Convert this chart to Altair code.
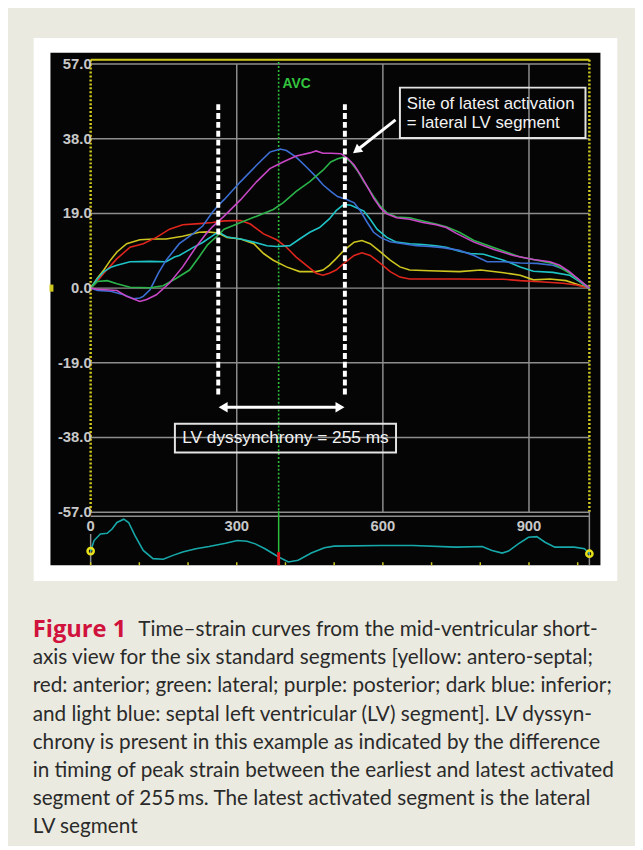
import altair as alt
import pandas as pd

# ---------------- data ----------------
SEGMENTS = ["yellow: antero-septal", "red: anterior", "light blue: septal",
            "dark blue: inferior", "green: lateral", "purple: posterior"]
SEG_COLORS = ["#cdc520", "#e0261c", "#1fc3c6", "#3b6fd4", "#2bb34a", "#c947c6"]

yellow_t = [0, 14, 27, 40, 54, 74, 101, 130, 155, 189, 223, 240, 262, 280, 308, 335, 355, 375, 402, 429,
            463, 477, 490, 504, 520, 541, 557, 574, 595, 615, 635, 655, 696, 757, 801, 848, 882, 909, 943,
            976, 1003, 1024]
yellow_v = [0, 2.6, 4.6, 7.0, 9.2, 11.3, 12.3, 12.5, 12.5, 13.2, 14.2, 14.3, 14.0, 12.9, 12.5, 11.3, 8.8,
            7.1, 5.4, 4.2, 4.2, 4.6, 5.8, 7.5, 9.6, 11.7, 12.1, 11.3, 9.2, 7.1, 5.4, 4.6, 4.4, 4.2, 4.6,
            3.9, 3.3, 2.1, 2.3, 1.9, 0.8, 0]

red_t = [0, 14, 27, 54, 81, 108, 135, 162, 189, 223, 250, 274, 308, 328, 355, 382, 402, 422, 443, 463,
         477, 490, 504, 520, 541, 557, 574, 595, 615, 635, 655, 757, 801, 848, 882, 922, 970, 997, 1024]
red_v = [0, 1.8, 3.8, 7.5, 10.4, 11.3, 12.9, 15.0, 16.1, 16.4, 16.7, 17.1, 17.2, 16.3, 13.8, 12.3, 10.4,
         7.9, 5.8, 3.8, 3.3, 3.8, 4.6, 6.3, 8.3, 9.0, 8.3, 6.3, 4.2, 2.8, 2.3, 2.3, 2.25, 2.25, 1.9, 1.6,
         1.25, 0.8, 0]

cyan_t = [0, 14, 27, 43, 54, 81, 122, 155, 172, 182, 210, 230, 250, 262, 280, 308, 335, 362, 382, 409,
          429, 450, 470, 490, 504, 520, 534, 547, 561, 574, 588, 608, 628, 655, 682, 709, 730, 757, 780,
          807, 848, 882, 909, 949, 983, 1003, 1024]
cyan_v = [0, 2.4, 4.2, 5.4, 5.8, 6.7, 6.8, 6.7, 7.9, 8.3, 10.3, 11.6, 13.3, 14.3, 13.0, 12.5, 11.7, 10.8,
          10.6, 10.8, 12.5, 14.2, 15.4, 17.6, 19.7, 21.3, 21.1, 20.4, 19.6, 17.5, 15.0, 12.9, 11.7, 11.3,
          11.1, 10.8, 10.4, 9.4, 8.8, 8.6, 7.1, 5.4, 4.3, 4.0, 3.3, 1.7, -0.2]

blue_t = [0, 14, 41, 68, 88, 101, 108, 122, 139, 155, 182, 210, 230, 250, 262, 274, 308, 341, 368, 389,
          402, 422, 443, 463, 477, 493, 507, 527, 541, 554, 568, 581, 595, 615, 642, 669, 696, 723, 757,
          787, 814, 848, 882, 916, 949, 976, 1003, 1024]
blue_v = [0, -0.6, -0.8, -1.7, -2.7, -2.5, -2.1, -0.4, 3.8, 7.1, 11.3, 13.8, 15.8, 19.3, 21.0, 22.5, 27.1,
          31.3, 34.6, 35.4, 35.0, 33.3, 30.8, 28.3, 26.3, 24.6, 23.3, 22.5, 21.7, 19.6, 16.7, 14.2, 12.9,
          11.8, 11.3, 10.8, 10.6, 10.3, 9.6, 8.3, 6.7, 6.7, 6.4, 6.3, 5.8, 4.6, 2.1, 0]

green_t = [0, 14, 34, 54, 81, 122, 149, 176, 203, 223, 240, 262, 274, 308, 341, 375, 395, 422, 450, 477,
           493, 507, 520, 534, 547, 561, 581, 595, 608, 628, 655, 682, 709, 730, 757, 787, 882, 949, 983,
           1010, 1024]
green_v = [0, 1.7, 1.9, 1.1, 0.2, 0.1, 0.6, 2.5, 4.6, 8.0, 11.0, 13.5, 15.0, 16.7, 18.3, 20.0, 21.7, 24.6,
           27.1, 30.0, 32.1, 32.9, 33.3, 32.1, 30.0, 27.1, 23.3, 20.8, 19.2, 18.1, 17.9, 17.1, 16.3, 15.6,
           14.2, 12.1, 7.9, 6.3, 3.8, 1.3, 0]

purple_t = [0, 14, 54, 74, 95, 101, 115, 135, 162, 189, 216, 237, 250, 274, 308, 341, 368, 395, 422, 450,
            463, 477, 493, 514, 527, 541, 554, 568, 581, 595, 608, 628, 655, 682, 709, 730, 750, 787, 828,
            868, 909, 943, 963, 983, 1003, 1024]
purple_v = [0, -0.3, -0.6, -2.1, -3.1, -3.4, -2.9, -1.7, 1.3, 5.4, 10.4, 13.8, 15.6, 18.3, 22.5, 27.1,
            30.4, 32.1, 33.6, 34.4, 34.9, 34.3, 34.3, 34.2, 33.1, 31.3, 28.8, 25.8, 22.9, 20.4, 18.9, 17.9,
            17.5, 16.7, 16.1, 15.4, 14.0, 11.7, 9.8, 8.3, 7.3, 6.7, 5.8, 4.2, 2.1, 0]

ECG_T = [0, 7, 20, 34, 44, 54, 68, 78, 91, 108, 128, 149, 169, 189, 216, 243, 277, 301, 321, 338, 358,
         386, 406, 426, 453, 480, 500, 595, 662, 750, 804, 824, 845, 858, 878, 899, 916, 933, 953, 993,
         1014, 1024]
ECG_A = [0.28, 0.6, 0.8, 0.82, 0.95, 1.15, 1.25, 1.15, 0.75, 0.3, 0.05, 0.03, 0.15, 0.25, 0.35, 0.42,
         0.52, 0.6, 0.58, 0.5, 0.35, 0.1, -0.05, 0.0, 0.22, 0.38, 0.43, 0.45, 0.45, 0.4, 0.42, 0.3, 0.22,
         0.28, 0.5, 0.7, 0.72, 0.55, 0.4, 0.4, 0.35, 0.2]
ECG_TICKS = [0, 100, 200, 300, 400, 500, 600, 700, 800, 900, 1000]

Y_TICKS = [57, 38, 19, 0, -19, -38, -57]
Y_LABELS = ["57.0", "38.0", "19.0", "0.0", "-19.0", "-38.0", "-57.0"]
X_TICKS = [0, 300, 600, 900]
X_LABELS = ["0", "300", "600", "900"]
T_END = 1024
AVC_T = 386
DYS_T = [262, 522]          # earliest / latest peak (255 ms apart)

CAPTION_HEAD = "Figure 1"
CAPTION_LINES = [
    "Time\u2013strain curves from the mid-ventricular short-",
    "axis view for the six standard segments [yellow: antero-septal;",
    "red: anterior; green: lateral; purple: posterior; dark blue: inferior;",
    "and light blue: septal left ventricular (LV) segment]. LV dyssyn-",
    "chrony is present in this example as indicated by the difference",
    "in timing of peak strain between the earliest and latest activated",
    "segment of 255\u2009ms. The latest activated segment is the lateral",
    "LV segment",
]

# ---------------- scales ----------------
XS = alt.Scale(domain=[0, T_END], range=[83.7, 588.8], nice=False, zero=False)
YS = alt.Scale(domain=[-57, 57], range=[505.3, 51.4], nice=False, zero=False)
ES = alt.Scale(domain=[0, 1], range=[554, 520.7], nice=False, zero=False)
CS = alt.Scale(domain=[0, 7], range=[625, 824], nice=False, zero=False)

GRID = "#8e8e8e"
LABEL = "#c8c8c8"
YEL = "#cfc91f"
one = alt.Data(values=[{"k": 1}])


def xd(v):
    return alt.XDatum(v, type="quantitative", scale=XS, axis=None)


def yd(v):
    return alt.YDatum(v, type="quantitative", scale=YS, axis=None)


def ed(v):
    return alt.YDatum(v, type="quantitative", scale=ES, axis=None)


def xf(f):
    return alt.X(f, type="quantitative", scale=XS, axis=None)


def yf(f):
    return alt.Y(f, type="quantitative", scale=YS, axis=None)


rows = []
for name, ts, vs in zip(SEGMENTS,
                        [yellow_t, red_t, cyan_t, blue_t, green_t, purple_t],
                        [yellow_v, red_v, cyan_v, blue_v, green_v, purple_v]):
    for t, v in zip(ts, vs):
        rows.append({"segment": name, "t": t, "v": v})
curves = pd.DataFrame(rows)

layers = []
# panels
layers.append(alt.Chart(one).mark_rect(color="#ffffff").encode(
    x=alt.value(26), x2=alt.value(617), y=alt.value(25), y2=alt.value(575)))
layers.append(alt.Chart(one).mark_rect(color="#050505").encode(
    x=alt.value(43), x2=alt.value(600), y=alt.value(40), y2=alt.value(559)))

# grid
grid_df = pd.DataFrame({"v": Y_TICKS, "label": Y_LABELS})
layers.append(alt.Chart(grid_df).mark_rule(color=GRID, strokeWidth=1.5).encode(
    x=xd(0), x2=alt.datum(T_END), y=yf("v")))
layers.append(alt.Chart(pd.DataFrame({"t": X_TICKS[1:]})).mark_rule(color=GRID, strokeWidth=1.5).encode(
    x=xf("t"), y=yd(57), y2=alt.datum(-57)))
layers.append(alt.Chart(one).mark_rule(color=GRID, strokeWidth=1.5).encode(
    x=xd(0), x2=alt.datum(T_END), y=yd(-58)))
# top yellow line and yellow dotted borders
layers.append(alt.Chart(one).mark_rule(color=YEL, strokeWidth=2).encode(
    x=xd(0), x2=alt.datum(T_END), y=yd(58.1)))
layers.append(alt.Chart(pd.DataFrame({"t": [0, T_END]})).mark_rule(
    color=YEL, strokeWidth=2.5, strokeDash=[2, 2]).encode(x=xf("t"), y=yd(58.1), y2=alt.datum(-57)))
layers.append(alt.Chart(one).mark_rect(color=YEL).encode(
    x=alt.value(42), x2=alt.value(46), y=yd(0.9), y2=alt.datum(-0.9)))
# AVC marker
layers.append(alt.Chart(one).mark_rule(color="#2dbf3c", strokeWidth=1.6, strokeDash=[2, 2]).encode(
    x=xd(AVC_T), y=yd(57.5), y2=alt.datum(-57)))
layers.append(alt.Chart(one).mark_text(
    text="AVC", align="left", baseline="middle", dx=4, font="Liberation Sans", fontSize=14,
    fontWeight="bold", color="#33c43f").encode(x=xd(AVC_T), y=yd(51.8)))

# curves
layers.append(alt.Chart(curves).mark_line(strokeWidth=1.6).encode(
    x=xf("t"), y=yf("v"),
    color=alt.Color("segment:N", scale=alt.Scale(domain=SEGMENTS, range=SEG_COLORS), legend=None)))

# dyssynchrony annotation
layers.append(alt.Chart(pd.DataFrame({"t": DYS_T})).mark_rule(
    color="#ffffff", strokeWidth=4, strokeDash=[6, 3]).encode(x=xf("t"), y=yd(46.8), y2=alt.datum(-27.7)))
layers.append(alt.Chart(one).mark_rule(color="#ffffff", strokeWidth=3).encode(
    x=xd(DYS_T[0] + 8), x2=alt.datum(DYS_T[1] - 8), y=yd(-30.3)))
layers.append(alt.Chart(pd.DataFrame({"t": [DYS_T[0] + 10, DYS_T[1] - 10], "dir": ["l", "r"]})).mark_point(
    filled=True, color="#ffffff", size=110, opacity=1).encode(
    x=xf("t"), y=yd(-30.3),
    shape=alt.Shape("dir:N", scale=alt.Scale(domain=["l", "r"], range=["triangle-left", "triangle-right"]),
                    legend=None)))

boxes = pd.DataFrame({"t1": [635, 173], "t2": [1016, 627], "v1": [51.0, -34.5], "v2": [38.2, -41.8]})
layers.append(alt.Chart(boxes).mark_rect(fillOpacity=0, stroke="#e4e4e4", strokeWidth=2).encode(
    x=xf("t1"), x2="t2", y=yf("v1"), y2="v2"))
site_df = pd.DataFrame({"t": [649, 649], "v": [46.9, 41.9],
                        "text": ["Site of latest activation", "= lateral LV segment"]})
layers.append(alt.Chart(site_df).mark_text(
    align="left", baseline="middle", font="Liberation Sans", fontSize=17, color="#f2f2f2").encode(
    x=xf("t"), y=yf("v"), text="text:N"))
layers.append(alt.Chart(one).mark_text(
    text="LV dyssynchrony = 255 ms", align="center", baseline="middle", font="Liberation Sans",
    fontSize=17.5, color="#f2f2f2").encode(x=xd(400), y=yd(-38.1)))
# arrow to latest site
layers.append(alt.Chart(one).mark_rule(color="#ffffff", strokeWidth=3).encode(
    x=xd(626), x2=alt.datum(548), y=yd(42.8), y2=alt.datum(35.2)))
layers.append(alt.Chart(one).mark_point(
    shape="triangle-up", filled=True, color="#ffffff", size=110, opacity=1, angle=232).encode(
    x=xd(546), y=yd(35.0)))

# axis labels
layers.append(alt.Chart(grid_df).mark_text(
    align="right", baseline="middle", dx=1, font="Liberation Sans", fontSize=15, fontWeight="bold",
    color=LABEL).encode(x=xd(0), y=yf("v"), text="label:N"))
layers.append(alt.Chart(pd.DataFrame({"t": X_TICKS, "label": X_LABELS})).mark_text(
    align="center", baseline="middle", font="Liberation Sans", fontSize=15, fontWeight="bold",
    color=LABEL).encode(x=xf("t"), y=yd(-60.4), text="label:N"))

# ECG strip
ecg = pd.DataFrame({"t": ECG_T, "a": ECG_A})
layers.append(alt.Chart(pd.DataFrame({"t": [0, T_END], "a1": [0.8, 1.5]})).mark_rule(
    color=GRID, strokeWidth=1.5).encode(x=xf("t"), y=alt.Y("a1:Q", scale=ES, axis=None), y2=alt.datum(-0.15)))
layers.append(alt.Chart(pd.DataFrame({"t": ECG_TICKS})).mark_rule(color=YEL, strokeWidth=1.5).encode(
    x=xf("t"), y=ed(-0.06), y2=alt.datum(-0.15)))
layers.append(alt.Chart(one).mark_rule(color="#2dbf3c", strokeWidth=1.5).encode(
    x=xd(AVC_T), y=ed(1.5), y2=alt.datum(0.25)))
layers.append(alt.Chart(ecg).mark_line(color="#17a9aa", strokeWidth=1.6).encode(
    x=xf("t"), y=alt.Y("a:Q", scale=ES, axis=None)))
layers.append(alt.Chart(one).mark_rule(color="#e3141c", strokeWidth=3).encode(
    x=xd(AVC_T), y=ed(0.25), y2=alt.datum(-0.15)))
layers.append(alt.Chart(pd.DataFrame({"t": [0, T_END], "a": [ECG_A[0], ECG_A[-1]]})).mark_point(
    shape="circle", filled=False, color="#e8e21a", strokeWidth=2.5, size=40, opacity=1).encode(
    x=xf("t"), y=alt.Y("a:Q", scale=ES, axis=None)))

# caption
layers.append(alt.Chart(one).mark_text(
    text=CAPTION_HEAD, align="left", baseline="middle", font="Open Sans", fontSize=24, fontWeight="bold",
    color="#d0123c").encode(x=alt.value(25), y=alt.YDatum(0, type="quantitative", scale=CS, axis=None)))
layers.append(alt.Chart(pd.DataFrame({"row": [0], "text": CAPTION_LINES[:1]})).mark_text(
    align="left", baseline="middle", font="Lato", fontSize=21, color="#2a2a2a").encode(
    x=alt.value(132), y=alt.Y("row:Q", scale=CS, axis=None), text="text:N"))
layers.append(alt.Chart(pd.DataFrame({"row": list(range(1, 8)), "text": CAPTION_LINES[1:]})).mark_text(
    align="left", baseline="middle", font="Lato", fontSize=21, color="#2a2a2a").encode(
    x=alt.value(25), y=alt.Y("row:Q", scale=CS, axis=None), text="text:N"))

chart = alt.layer(*layers).resolve_scale(
    x="independent", y="independent", color="independent", shape="independent"
).properties(
    width=635, height=838, padding=0, background="#ebeae1",
    autosize=alt.AutoSizeParams(type="none"),
).configure_view(stroke=None)

chart.save("out.html", embed_options={"renderer": "svg", "actions": False})
